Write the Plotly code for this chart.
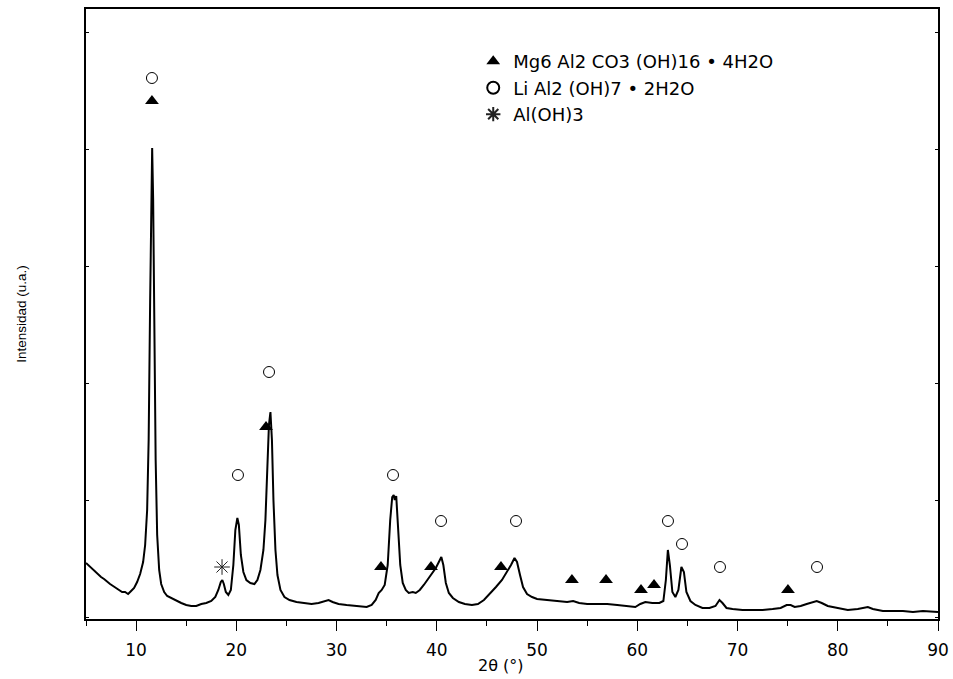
import plotly.graph_objects as go

# XRD pattern (2theta in degrees, intensity in arbitrary units)
two_theta = [
    5.0, 5.3, 5.6, 5.9, 6.2, 6.5, 6.8, 7.1, 7.4, 7.7, 8.0, 8.3, 8.6, 8.9, 9.2, 9.5, 9.8,
    10.1, 10.4, 10.7, 10.9, 11.1, 11.25, 11.4, 11.5, 11.6, 11.7, 11.8, 11.95, 12.1, 12.3,
    12.5, 12.8, 13.1, 13.5, 14.0, 14.5, 15.0, 15.5, 16.0, 16.5, 17.0, 17.5, 17.9, 18.2,
    18.45, 18.6, 18.75, 18.95, 19.2, 19.45, 19.7, 19.9, 20.1, 20.25, 20.45, 20.7, 21.0,
    21.4, 21.8, 22.1, 22.4, 22.7, 22.9, 23.1, 23.25, 23.4, 23.55, 23.7, 23.9, 24.1, 24.4,
    24.8, 25.3, 26.0, 26.8, 27.5, 28.2, 28.8, 29.2, 29.6, 30.2, 31.0, 31.8, 32.5, 33.0,
    33.5, 33.9, 34.2, 34.5, 34.8, 35.1, 35.35, 35.55, 35.7, 35.8, 35.95, 36.1, 36.35,
    36.6, 36.9, 37.2, 37.6, 37.9, 38.3, 38.7, 39.2, 39.6, 39.9, 40.2, 40.45, 40.65, 40.9,
    41.2, 41.6, 42.2, 42.8, 43.5, 44.1, 44.7, 45.3, 45.9, 46.5, 47.0, 47.4, 47.75, 48.0,
    48.3, 48.6, 49.0, 49.5, 50.0, 51.0, 52.0, 53.0, 53.6, 54.2, 55.0, 56.0, 57.0, 58.0,
    59.0, 59.8, 60.3, 60.8, 61.5, 62.2, 62.6, 62.85, 63.05, 63.25, 63.5, 63.8, 64.1,
    64.4, 64.65, 64.9, 65.3, 65.8, 66.5, 67.2, 67.8, 68.2, 68.5, 68.9, 69.5, 70.5, 71.5,
    72.5, 73.5, 74.3, 74.9, 75.3, 75.7, 76.3, 76.9, 77.5, 77.9, 78.4, 79.0, 80.0, 81.0,
    82.0, 82.7, 83.0, 83.5, 84.5, 85.5, 86.5, 87.5, 88.5, 90.0,
]
intensity = [
    56, 53, 50, 47, 45, 42, 40, 37, 35, 33, 31, 29, 27, 27, 25, 28, 31,
    37, 45, 57, 74, 109, 179, 319, 439, 471, 419, 289, 159, 84, 49,
    35, 27, 23, 21, 18, 16, 14, 13, 13, 15, 16, 18, 22, 29,
    37, 39, 35, 27, 24, 29, 54, 89, 101, 94, 64, 47, 39,
    36, 35, 39, 49, 69, 99, 149, 194, 207, 179, 119, 69, 44, 29,
    22, 19, 17, 16, 15, 16, 18, 19, 17, 15, 14, 13, 12, 12,
    14, 19, 26, 29, 34, 54, 99, 122, 124, 119, 123, 99, 54,
    36, 29, 26, 27, 26, 29, 34, 41, 47, 51, 57, 62, 54, 36,
    26, 21, 17, 15, 14, 15, 19, 25, 32, 39, 47, 54, 61, 57,
    44, 32, 25, 22, 20, 19, 18, 17, 18, 16, 15, 15, 15, 14,
    13, 12, 15, 17, 16, 16, 18, 39, 69, 54, 27, 22, 29,
    52, 47, 27, 18, 14, 11, 11, 13, 19, 16, 11, 10, 9, 9,
    9, 10, 11, 14, 14, 12, 13, 15, 17, 18, 16, 13, 11, 9,
    10, 11, 12, 10, 8, 8, 8, 7, 8, 7,
]

# Phase identification markers
mg_label = "Mg6 Al2 CO3 (OH)16 \u2022 4H2O"
mg_x = [11.58, 22.96, 34.43, 39.42, 46.40, 53.48, 56.88, 60.37, 61.67, 75.03]
mg_y = [518, 192, 52, 52, 52, 39, 39, 29, 34, 29]

li_label = "Li Al2 (OH)7 \u2022 2H2O"
li_x = [11.58, 23.26, 20.16, 35.63, 40.42, 47.90, 63.06, 64.46, 68.25, 77.93]
li_y = [541, 247, 144, 144, 98, 98, 98, 75, 52, 52]

al_label = "Al(OH)3"
al_x = [18.57]
al_y = [52]

x_ticks = [10, 20, 30, 40, 50, 60, 70, 80, 90]
x_title = "2\u03b8 (\u00b0)"
y_title = "Intensidad (u.a.)"

fig = go.Figure()
fig.add_trace(go.Scatter(x=two_theta, y=intensity, mode="lines",
                         line=dict(color="black", width=2), showlegend=False,
                         hoverinfo="skip"))
fig.add_trace(go.Scatter(x=mg_x, y=mg_y, mode="markers", name=mg_label,
                         marker=dict(symbol="triangle-up", size=12, color="black")))
fig.add_trace(go.Scatter(x=li_x, y=li_y, mode="markers", name=li_label,
                         marker=dict(symbol="circle-open", size=11, color="black",
                                     line=dict(width=1, color="black"))))
fig.add_trace(go.Scatter(x=al_x, y=al_y, mode="markers", name=al_label,
                         marker=dict(symbol="asterisk-open", size=13, color="#222",
                                     line=dict(width=1, color="#222"))))

fig.update_layout(
    width=953, height=679,
    margin=dict(l=86, r=15, t=9, b=60),
    paper_bgcolor="white", plot_bgcolor="white",
    font=dict(family="DejaVu Sans", color="black"),
    legend=dict(x=0.4545, y=0.944, xanchor="left", yanchor="top",
                bgcolor="rgba(0,0,0,0)", font=dict(size=18, family="DejaVu Sans"),
                itemsizing="constant"),
    xaxis=dict(range=[5, 90], tickvals=x_ticks, ticks="outside", ticklen=10,
               tickwidth=1, tickcolor="black", showline=True, linecolor="black",
               linewidth=1.5, mirror=True, showgrid=False, zeroline=False,
               automargin=False, ticklabelstandoff=5,
               tickfont=dict(size=17, family="DejaVu Sans"),
               minor=dict(dtick=5, tick0=5, ticks="outside", ticklen=5,
                          tickcolor="black", showgrid=False)),
    yaxis=dict(range=[0, 610], tick0=2, dtick=117, ticks="inside", ticklen=3,
               tickcolor="black", showticklabels=False, showline=True,
               linecolor="black", linewidth=1.5, mirror="ticks", showgrid=False,
               zeroline=False, automargin=False,
               title=dict(text=y_title,
                          font=dict(size=13.5, family="Liberation Sans"), standoff=55)),
    annotations=[dict(text=x_title, xref="paper", yref="paper", x=0.487, y=-0.0755,
                      xanchor="center", yanchor="middle", showarrow=False,
                      font=dict(size=16, family="DejaVu Sans"))],
)

fig.write_html("out.html")
